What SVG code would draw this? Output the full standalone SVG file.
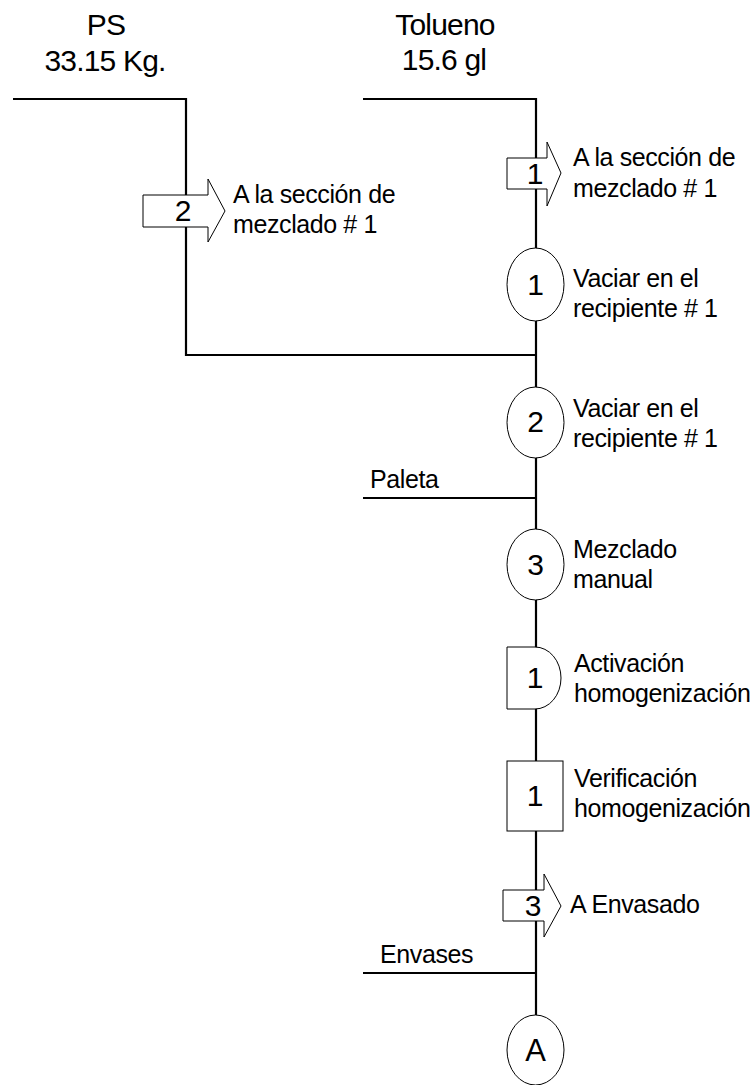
<svg xmlns="http://www.w3.org/2000/svg" width="753" height="1085" viewBox="0 0 753 1085">
<style>
text{font-family:"Liberation Sans",Arial,sans-serif;fill:#000}
.hd{font-size:30px;text-anchor:middle;letter-spacing:-0.8px}
.lb{font-size:25px;letter-spacing:-0.4px}
.num{font-size:30px;text-anchor:middle}
.ln{stroke:#000;stroke-width:2.2;fill:none}
.sh{fill:#fff;stroke:#000;stroke-width:1}
</style>
<rect width="753" height="1085" fill="#fff"/>
<g id="connectors">
<polyline class="ln" points="13,99 186,99 186,355 536,355"/>
<polyline class="ln" points="363,99 536,99 536,1015"/>
<line class="ln" x1="363" y1="498" x2="536" y2="498"/>
<line class="ln" x1="363" y1="973" x2="536" y2="973"/>
</g>
<g id="header-ps">
<text class="hd" x="106" y="35">PS</text>
<text class="hd" x="105" y="71">33.15 Kg.</text>
</g>
<g id="header-tolueno">
<text class="hd" x="445" y="35">Tolueno</text>
<text class="hd" x="444" y="70">15.6 gl</text>
</g>
<g id="transport-2">
<polygon class="sh" points="143,195 208,195 208,179 225,211 208,242 208,227 143,227"/>
<text class="num" x="183" y="221">2</text>
<text class="lb" x="233" y="203">A la sección de</text>
<text class="lb" x="233" y="233">mezclado # 1</text>
</g>
<g id="transport-1">
<polygon class="sh" points="507,158 547,158 547,142 561,173 547,206 547,189 507,189"/>
<text class="num" x="535" y="184">1</text>
<text class="lb" x="573" y="166">A la sección de</text>
<text class="lb" x="573" y="197">mezclado # 1</text>
</g>
<g id="operation-1">
<ellipse class="sh" cx="535.5" cy="284.5" rx="28.5" ry="36.5"/>
<text class="num" x="535.5" y="295">1</text>
<text class="lb" x="573" y="287">Vaciar en el</text>
<text class="lb" x="573" y="317">recipiente # 1</text>
</g>
<g id="operation-2">
<ellipse class="sh" cx="535.5" cy="422.5" rx="28.5" ry="35.5"/>
<text class="num" x="535.5" y="432">2</text>
<text class="lb" x="573" y="417">Vaciar en el</text>
<text class="lb" x="573" y="447">recipiente # 1</text>
</g>
<g id="input-paleta">
<text class="lb" x="370" y="488">Paleta</text>
</g>
<g id="operation-3">
<ellipse class="sh" cx="535.5" cy="564.5" rx="28.5" ry="35.5"/>
<text class="num" x="535.5" y="575">3</text>
<text class="lb" x="573" y="558">Mezclado</text>
<text class="lb" x="573" y="588">manual</text>
</g>
<g id="delay-1">
<path class="sh" d="M507,647 H535 A26,31 0 0 1 535,709 H507 Z"/>
<text class="num" x="535" y="688">1</text>
<text class="lb" x="574" y="672">Activación</text>
<text class="lb" x="574" y="702">homogenización</text>
</g>
<g id="inspection-1">
<rect class="sh" x="507" y="761" width="56" height="70"/>
<text class="num" x="535" y="806">1</text>
<text class="lb" x="574" y="787">Verificación</text>
<text class="lb" x="574" y="817">homogenización</text>
</g>
<g id="transport-3">
<polygon class="sh" points="503,890 544,890 544,874 561,906 544,937 544,921 503,921"/>
<text class="num" x="533" y="916">3</text>
<text class="lb" x="570" y="913">A Envasado</text>
</g>
<g id="input-envases">
<text class="lb" x="380" y="963">Envases</text>
</g>
<g id="connector-a">
<ellipse class="sh" cx="535.5" cy="1050" rx="28.5" ry="35"/>
<text class="num" x="535.5" y="1061" style="font-size:31px">A</text>
</g>
</svg>
